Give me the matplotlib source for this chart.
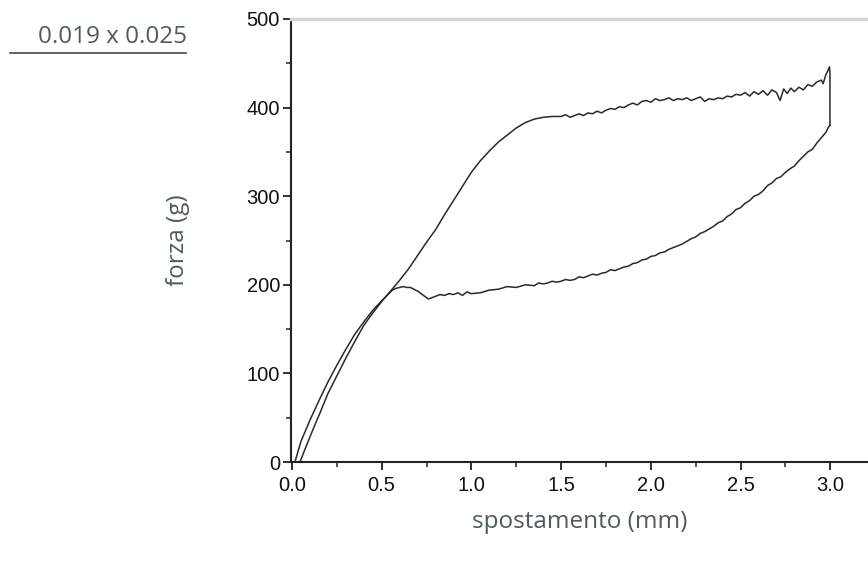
import numpy as np
import matplotlib.pyplot as plt
from matplotlib.ticker import MultipleLocator, FormatStrFormatter

# loading branch (andata)
load_x = [0.045, 0.08, 0.12, 0.16, 0.2, 0.25, 0.3, 0.35, 0.4, 0.45, 0.5, 0.55,
          0.6, 0.65, 0.7, 0.75, 0.8, 0.85, 0.9, 0.95, 1.0, 1.05, 1.1, 1.15,
          1.2, 1.25, 1.3, 1.35, 1.4, 1.45, 1.5, 1.525, 1.55, 1.575, 1.6, 1.625,
          1.65, 1.675, 1.7, 1.725, 1.75, 1.775, 1.8, 1.825, 1.85, 1.875, 1.9,
          1.925, 1.95, 1.975, 2.0, 2.025, 2.05, 2.075, 2.1, 2.125, 2.15, 2.175,
          2.2, 2.225, 2.25, 2.275, 2.3, 2.325, 2.35, 2.375, 2.4, 2.425, 2.45,
          2.475, 2.5, 2.525, 2.55, 2.575, 2.6, 2.625, 2.65, 2.675, 2.7, 2.72,
          2.74, 2.76, 2.78, 2.8, 2.825, 2.85, 2.875, 2.9, 2.925, 2.95, 2.96,
          2.975, 2.985, 2.995, 2.998, 2.998]
load_y = [0, 18, 38, 57, 77, 97, 117, 136, 154, 168, 181, 193,
          205, 218, 233, 248, 262, 279, 295, 311, 327, 340, 351, 361,
          369, 377, 383, 387, 389, 390, 390, 392, 389, 391, 393, 391,
          394, 393, 396, 394, 397, 399, 398, 401, 400, 403, 405,
          403, 407, 408, 406, 410, 408, 409, 411, 408, 410, 409,
          411, 408, 410, 412, 407, 410, 409, 411, 410, 413, 412,
          415, 414, 417, 413, 418, 415, 419, 414, 420, 417, 408,
          421, 416, 422, 418, 423, 420, 426, 424, 429, 431, 427,
          437, 441, 446, 440, 380]

# unloading branch (ritorno)
unload_x = [2.998, 2.99, 2.975, 2.95, 2.925, 2.9, 2.875, 2.85, 2.825, 2.8, 2.775,
            2.75, 2.725, 2.7, 2.675, 2.65, 2.625, 2.6, 2.575, 2.55, 2.525, 2.5,
            2.475, 2.45, 2.425, 2.4, 2.375, 2.35, 2.325, 2.3, 2.275, 2.25, 2.225,
            2.2, 2.175, 2.15, 2.125, 2.1, 2.075, 2.05, 2.025, 2.0, 1.975, 1.95,
            1.925, 1.9, 1.875, 1.85, 1.825, 1.8, 1.775, 1.75, 1.725, 1.7, 1.675,
            1.65, 1.625, 1.6, 1.575, 1.55, 1.525, 1.5, 1.475, 1.45, 1.425, 1.4,
            1.375, 1.35, 1.3, 1.25, 1.2, 1.15, 1.1, 1.05, 1.0, 0.975, 0.95, 0.925,
            0.9, 0.875, 0.85, 0.825, 0.8, 0.775, 0.76, 0.74, 0.72, 0.7, 0.68,
            0.66, 0.64, 0.62, 0.6, 0.58, 0.56, 0.54, 0.52, 0.5, 0.45, 0.4, 0.35,
            0.3, 0.25, 0.2, 0.15, 0.1, 0.05, 0.017]
unload_y = [380, 378, 372, 366, 360, 353, 350, 345, 340, 334, 331,
            327, 322, 320, 315, 312, 306, 302, 300, 295, 292, 287,
            285, 280, 277, 272, 270, 266, 263, 260, 258, 254, 252,
            249, 246, 244, 242, 240, 237, 236, 233, 232, 229, 228,
            225, 224, 221, 220, 218, 216, 217, 214, 213, 211, 212,
            210, 208, 209, 206, 205, 206, 204, 203, 204, 202, 201,
            202, 199, 200, 197, 198, 195, 194, 191, 190, 192, 188, 191,
            189, 190, 188, 189, 187, 185, 184, 187, 190, 193, 195,
            197, 197, 198, 197, 196, 194, 190, 186, 182, 171, 158, 144,
            127, 109, 90, 69, 47, 23, 0]

title_txt = "0.019 x 0.025"
xlabel_txt = "spostamento (mm)"
ylabel_txt = "forza (g)"
text_col = "#4d5b63"

fig = plt.figure(figsize=(8.68, 5.62), dpi=100)
ax = fig.add_axes([291 / 868, 100 / 562, 577 / 868, 443 / 562])

ax.plot(load_x, load_y, color="#2a2a2a", lw=1.1)
ax.plot(unload_x, unload_y, color="#2a2a2a", lw=1.1)

ax.set_xlim(-0.005, 3.21)
ax.set_ylim(0, 500)

ax.xaxis.set_major_locator(MultipleLocator(0.5))
ax.xaxis.set_minor_locator(MultipleLocator(0.25))
ax.yaxis.set_major_locator(MultipleLocator(100))
ax.yaxis.set_minor_locator(MultipleLocator(50))
ax.xaxis.set_major_formatter(FormatStrFormatter("%.1f"))
ax.yaxis.set_major_formatter(FormatStrFormatter("%d"))

ax.spines["right"].set_visible(False)
ax.spines["top"].set_color("#d6d6d6")
ax.spines["top"].set_linewidth(2.5)
for s in ["left", "bottom"]:
    ax.spines[s].set_color("#222222")
    ax.spines[s].set_linewidth(1.5)

ax.tick_params(which="major", direction="out", length=6, width=1.3,
               color="#222222", labelsize=14.5, labelcolor="#111111")
ax.tick_params(axis="y", which="major", pad=2)
ax.tick_params(axis="x", which="major", pad=4)
ax.tick_params(which="minor", direction="out", length=3.5, width=1.1,
               color="#222222")
for lab in ax.get_xticklabels() + ax.get_yticklabels():
    lab.set_fontfamily("Liberation Sans")

fig.text(187 / 868, 1 - 37 / 562, title_txt, ha="right", va="center",
         fontsize=17.5, color=text_col, family="Open Sans")
fig.add_artist(plt.Line2D([10 / 868, 186 / 868], [1 - 53 / 562, 1 - 53 / 562],
                          color=text_col, lw=1.3))
fig.text(580 / 868, 1 - 522 / 562, xlabel_txt, ha="center", va="center",
         fontsize=17.5, color=text_col, family="Open Sans")
fig.text(178 / 868, 1 - 240 / 562, ylabel_txt, ha="center", va="center",
         rotation=90, fontsize=17.5, color=text_col, family="Open Sans")

fig.savefig("out.png", dpi=100)
